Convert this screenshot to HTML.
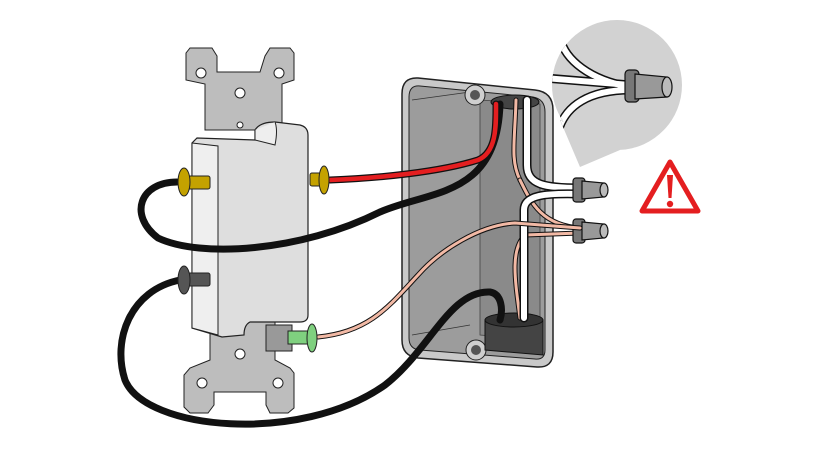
<!DOCTYPE html>
<html><head><meta charset="utf-8"><style>html,body{margin:0;padding:0;background:#fff}svg{display:block}</style></head>
<body>
<svg width="822" height="450" viewBox="0 0 822 450" xmlns="http://www.w3.org/2000/svg">
<defs><clipPath id="bc"><circle cx="617" cy="85" r="65"/><path d="M560,120 L580,167 L620,150 Z"/></clipPath></defs>
<!-- bubble -->
<g clip-path="url(#bc)">
<rect x="540" y="10" width="160" height="170" fill="#d2d2d2"/>
<g stroke="#111" stroke-width="9" fill="none"><path d="M560,38 C565,60 590,80 630,87"/><path d="M545,78 L630,85"/><path d="M558,132 C565,105 590,90 630,90"/></g>
<g stroke="#fff" stroke-width="6" fill="none"><path d="M560,38 C565,60 590,80 630,87"/><path d="M545,78 L630,85"/><path d="M558,132 C565,105 590,90 630,90"/></g>
</g>
<g stroke="#111" stroke-width="1.2"><rect x="625" y="70" width="14" height="32" rx="4" fill="#777"/><path d="M635,74 L667,77 L667,97 L635,99 Z" fill="#999"/><ellipse cx="667" cy="87" rx="5" ry="10" fill="#bbb"/></g>
<!-- warning -->
<path d="M670,162 L642,211 L698,211 Z" fill="#fff" stroke="#e41e20" stroke-width="5" stroke-linejoin="round"/>
<path d="M667,175 L673,175 L671.5,198 L668.5,198 Z" fill="#e41e20"/><circle cx="670" cy="204" r="3.2" fill="#e41e20"/>
<!-- box -->
<path d="M418,78 L535,90 Q553,92 553,110 L553,352 Q553,368 537,367 L418,358 Q402,356 402,340 L402,94 Q402,77 418,78 Z" fill="#c9c9c9" stroke="#222" stroke-width="1.5"/>
<path d="M420,86 L533,97 Q545,99 545,112 L545,350 Q545,360 535,359 L420,350 Q409,349 409,338 L409,97 Q409,85 420,86 Z" fill="#9c9c9c" stroke="#222" stroke-width="1"/>
<path d="M480,100 L540,104 L540,340 L480,335 Z" fill="#8a8a8a" stroke="#444" stroke-width="0.8"/>
<path d="M412,100 L470,92 M412,335 L470,325" stroke="#333" stroke-width="0.8"/>
<circle cx="475" cy="95" r="10" fill="#cfcfcf" stroke="#222"/><circle cx="475" cy="95" r="5" fill="#555"/>
<circle cx="476" cy="350" r="10" fill="#cfcfcf" stroke="#222"/><circle cx="476" cy="350" r="5" fill="#555"/>
<ellipse cx="515" cy="102" rx="24" ry="7" fill="#444" stroke="#111"/>
<path d="M485,320 L543,320 L543,355 L485,350 Z" fill="#444" stroke="#111"/><ellipse cx="514" cy="320" rx="29" ry="7" fill="#333" stroke="#111"/>
<!-- wires inside box -->
<g fill="none" stroke-linecap="round">
<path d="M516,100 C515,140 510,160 520,180" stroke="#111" stroke-width="5"/>
<path d="M516,100 C515,140 510,160 520,180" stroke="#f2b9a5" stroke-width="3"/>
<path d="M520,180 C530,200 540,225 580,228" stroke="#111" stroke-width="5"/><path d="M520,180 C530,200 540,225 580,228" stroke="#f2b9a5" stroke-width="3"/>
<path d="M520,318 C515,280 510,250 525,235 L580,233" stroke="#111" stroke-width="5"/><path d="M520,318 C515,280 510,250 525,235 L580,233" stroke="#f2b9a5" stroke-width="3"/>
<path d="M527,100 L527,165 C527,185 545,188 580,188" stroke="#111" stroke-width="9"/><path d="M527,100 L527,165 C527,185 545,188 580,188" stroke="#fff" stroke-width="6"/>
<path d="M524,318 L524,210 C524,195 545,193 580,194" stroke="#111" stroke-width="9"/><path d="M524,318 L524,210 C524,195 545,193 580,194" stroke="#fff" stroke-width="6"/>
</g>
<g stroke="#111" stroke-width="1.2"><rect x="573" y="178" width="12" height="24" rx="3" fill="#777"/><path d="M582,181 L604,183 L604,197 L582,199 Z" fill="#999"/><ellipse cx="604" cy="190" rx="4" ry="7" fill="#bbb"/>
<rect x="573" y="219" width="12" height="24" rx="3" fill="#777"/><path d="M582,222 L604,224 L604,238 L582,240 Z" fill="#999"/><ellipse cx="604" cy="231" rx="4" ry="7" fill="#bbb"/></g>
<!-- switch strap -->
<path d="M190,48 L212,48 L217,56 L217,72 L260,72 L265,56 L270,48 L290,48 L294,53 L294,80 L282,84 L282,130 L205,130 L205,84 L186,80 L186,53 Z" fill="#bdbdbd" stroke="#222"/>
<circle cx="201" cy="73" r="5" fill="#fff" stroke="#222"/><circle cx="279" cy="73" r="5" fill="#fff" stroke="#222"/>
<circle cx="240" cy="93" r="5" fill="#fff" stroke="#222"/><circle cx="240" cy="125" r="3" fill="#fff" stroke="#222"/>
<path d="M210,320 L275,320 L275,360 L290,368 L294,373 L294,408 L288,413 L270,413 L266,405 L266,392 L214,392 L214,405 L208,413 L190,413 L184,407 L184,375 L190,368 L210,360 Z" fill="#bdbdbd" stroke="#222"/>
<circle cx="240" cy="354" r="5" fill="#fff" stroke="#222"/><circle cx="202" cy="383" r="5" fill="#fff" stroke="#222"/><circle cx="278" cy="383" r="5" fill="#fff" stroke="#222"/>
<!-- switch body -->
<path d="M197,138 L255,140 L255,130 Q260,122 275,122 L300,125 Q308,127 308,135 L308,315 Q308,322 300,322 L250,322 Q244,325 244,335 L222,337 L192,328 L192,143 Z" fill="#dedede" stroke="#222" stroke-width="1.2"/>
<path d="M192,143 L218,146 L218,335 L192,328 Z" fill="#efefef" stroke="#222" stroke-width="1"/>
<path d="M255,130 L255,140 L275,145 Q278,130 275,122" fill="#eee" stroke="#222" stroke-width="1"/>
<!-- black wires -->
<g fill="none" stroke-linecap="round">
<path d="M177,182 C140,182 128,215 158,238 C200,258 300,252 380,212 C430,190 497,198 500,104" stroke="#111" stroke-width="7"/>
<path d="M180,280 C130,290 112,340 125,380 C145,430 300,445 385,385 C430,350 450,290 490,292 C502,294 503,310 500,320" stroke="#111" stroke-width="7"/>
<path d="M330,180 C380,178 440,172 478,160 C497,152 496,125 496,104" stroke="#111" stroke-width="7"/>
<path d="M330,180 C380,178 440,172 478,160 C497,152 496,125 496,104" stroke="#e41e20" stroke-width="4.5"/>
<path d="M318,337 C370,332 390,305 418,275 C440,250 480,225 515,223 L580,228" stroke="#111" stroke-width="5"/>
<path d="M318,337 C370,332 390,305 418,275 C440,250 480,225 515,223 L580,228" stroke="#f2b9a5" stroke-width="3"/>
</g>
<!-- screws -->
<g stroke="#222" stroke-width="1">
<rect x="185" y="176" width="25" height="13" rx="2" fill="#c4a200"/><ellipse cx="184" cy="182" rx="6" ry="14" fill="#c4a200"/>
<rect x="310" y="173" width="16" height="13" rx="2" fill="#c4a200"/><ellipse cx="324" cy="180" rx="5" ry="14" fill="#c4a200"/>
<rect x="186" y="273" width="24" height="13" rx="2" fill="#555"/><ellipse cx="184" cy="280" rx="6" ry="14" fill="#555"/>
<rect x="266" y="325" width="26" height="26" fill="#999"/><rect x="288" y="331" width="20" height="13" fill="#7fd07f"/><ellipse cx="312" cy="338" rx="5" ry="14" fill="#7fd07f"/>
</g>
</svg>
</body></html>
